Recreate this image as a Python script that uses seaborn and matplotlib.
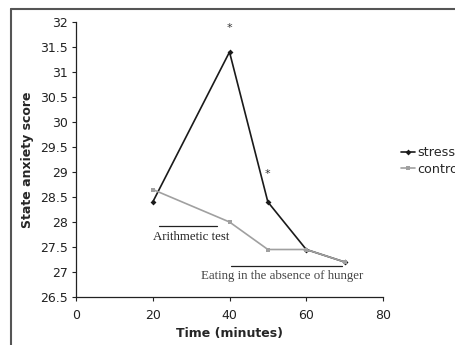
import matplotlib
matplotlib.use("Agg")
import matplotlib.pyplot as plt
import seaborn as sns
import pandas as pd
from matplotlib.lines import Line2D

sns.set_style("ticks")
plt.rcParams['font.family'] = ['DejaVu Sans']

time = [20, 40, 50, 60, 70]
stress = [28.4, 31.4, 28.4, 27.45, 27.2]
control = [28.65, 28.0, 27.45, 27.45, 27.2]
series_names = ["stress", "control"]
y_ticks = [26.5, 27, 27.5, 28, 28.5, 29, 29.5, 30, 30.5, 31, 31.5, 32]
x_ticks = [0, 20, 40, 60, 80]

df = pd.DataFrame({
    "time": time * 2,
    "score": stress + control,
    "group": [series_names[0]] * len(time) + [series_names[1]] * len(time),
})

fig = plt.figure(figsize=(4.55, 3.45), dpi=100)
ax = fig.add_axes([76/455, 1-297/345, (383-76)/455, (297-22)/345])

colors = {"stress": "#1a1a1a", "control": "#a0a0a0"}
sns.lineplot(data=df, x="time", y="score", hue="group", style="group",
             markers={"stress": "D", "control": "s"}, dashes=False,
             palette=colors, markersize=3, linewidth=1.2, markeredgewidth=0,
             legend=False, ax=ax)

ax.set_xlim(0, 80)
ax.set_ylim(26.5, 32)
ax.set_xticks(x_ticks)
ax.set_yticks(y_ticks)
ax.set_yticklabels([f"{v:g}" for v in y_ticks])
ax.tick_params(labelsize=9, length=3, width=0.8, colors="#222222", pad=3)
ax.tick_params(axis="x", pad=5.5)
for s in ["top", "right"]:
    ax.spines[s].set_visible(False)
for s in ["left", "bottom"]:
    ax.spines[s].set_linewidth(0.9)
    ax.spines[s].set_color("#222222")

ax.set_xlabel("Time (minutes)", fontsize=9, fontweight="bold", labelpad=4)
ax.set_ylabel("State anxiety score", fontsize=9, fontweight="bold", labelpad=4)

# significance stars
ax.text(40, 31.88, "*", ha="center", va="center", fontsize=8, color="#333333")
ax.text(50, 28.95, "*", ha="center", va="center", fontsize=8, color="#333333")

# period bars
ax.plot([21.6, 36.7], [27.92, 27.92], color="#222222", linewidth=0.9)
ax.text(30.1, 27.69, "Arithmetic test", ha="center", va="center",
        fontsize=9.3, family="Liberation Serif", color="#222222")
ax.plot([40.4, 69.3], [27.12, 27.12], color="#222222", linewidth=0.9)
ax.text(53.6, 26.92, "Eating in the absence of hunger", ha="center", va="center",
        fontsize=9.3, family="Liberation Serif", color="#444444")

# legend outside on the right
handles = [Line2D([0], [0], color=colors[n], marker=m, markersize=3, linewidth=1.2,
                  markeredgewidth=0) for n, m in zip(series_names, ["D", "s"])]
fig.legend(handles, series_names, loc="center left",
           bbox_to_anchor=(401/455, 1-161/345), frameon=False, fontsize=9.2,
           handlelength=1.1, handletextpad=0.15, labelspacing=0.25,
           borderaxespad=0, borderpad=0)

# outer frame (top and left edges)
fig.add_artist(Line2D([11/455, 1], [1-9/345, 1-9/345], color="#555555", linewidth=1.5,
                      transform=fig.transFigure))
fig.add_artist(Line2D([11/455, 11/455], [0, 1-9/345], color="#555555", linewidth=1.5,
                      transform=fig.transFigure))

fig.savefig("out.png", dpi=100)
